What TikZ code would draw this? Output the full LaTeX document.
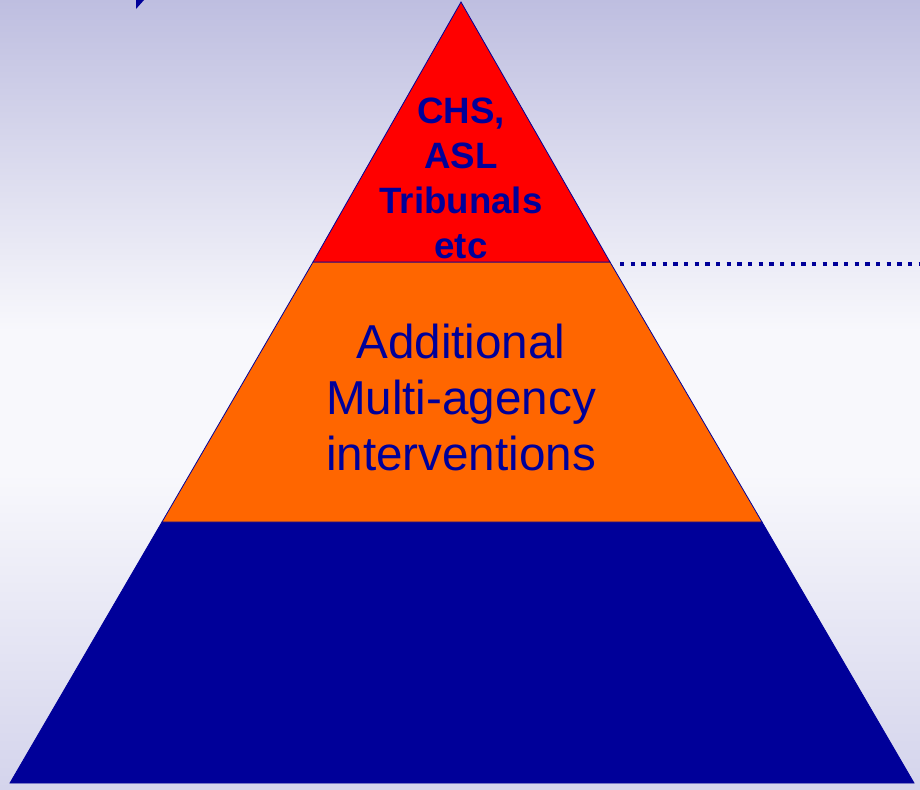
\documentclass[tikz,border=0pt]{standalone}
\usepackage{fontspec}
\setmainfont{Liberation Sans}
\definecolor{layerred}{RGB}{255,0,0}
\definecolor{layerorange}{RGB}{255,102,0}
\definecolor{layerblue}{RGB}{0,0,153}
\definecolor{bgtop}{RGB}{190,190,224}
\definecolor{bgmid}{RGB}{248,248,252}
\definecolor{bgbot}{RGB}{212,212,236}
\pgfdeclareverticalshading{backdrop}{100bp}{color(0bp)=(bgbot); color(25bp)=(bgbot); color(45bp)=(bgmid); color(54bp)=(bgmid); color(75bp)=(bgtop); color(100bp)=(bgtop)}
\tikzset{
  layer/.style={draw=layerblue, line width=0.6pt, line join=miter},
  toplabel/.style={text=layerblue, align=center, font=\fontsize{27.5}{33.75}\selectfont\bfseries},
  midlabel/.style={text=layerblue, align=center, font=\fontsize{35.7}{42}\selectfont}
}
\begin{document}
\begin{tikzpicture}[x=0.75pt, y=-0.75pt]

  % background
  \shade[shading=backdrop] (0,789) rectangle (920,0);
  \useasboundingbox (0,0) rectangle (920,789);

  % corners of the pyramid
  \coordinate (apex) at (461,2);
  \coordinate (redl) at (313,262);
  \coordinate (redr) at (610,262);
  \coordinate (orl) at (162,522);
  \coordinate (orr) at (762,522);
  \coordinate (botl) at (10,783);
  \coordinate (botr) at (914,783);
  \coordinate (dotend) at (920,264);

  % layers
  \filldraw[layer, fill=layerblue] (orl) -- (orr) -- (botr) -- (botl) -- cycle;
  \filldraw[layer, fill=layerorange] (redl) -- (redr) -- (orr) -- (orl) -- cycle;
  \filldraw[layer, fill=layerred] (apex) -- (redr) -- (redl) -- cycle;

  % labels
  \node[toplabel] (courts) at (461,178) {CHS,\\ASL\\Tribunals\\etc};
  \node[midlabel] (multi) at (461,397) {Additional\\Multi-agency\\interventions};

  % dotted line to the right
  \draw[layerblue, line width=3.2pt, dash pattern=on 3.2pt off 4.8pt] ([xshift=7.5pt,yshift=-1.5pt]redr) -- (dotend);

  % piece of arrow in the corner
  \fill[layerblue] (136,0) -- (144,0) -- (136,9) -- cycle;

\end{tikzpicture}
\end{document}
